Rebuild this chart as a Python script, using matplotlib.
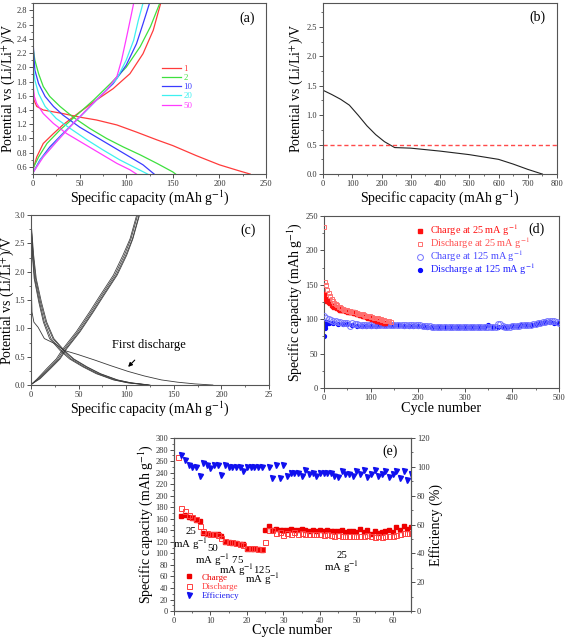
import matplotlib
matplotlib.use("Agg")
import matplotlib.pyplot as plt
from matplotlib.ticker import MultipleLocator, AutoMinorLocator

plt.rcParams['font.family'] = ['Liberation Serif', 'DejaVu Serif']
plt.rcParams['mathtext.fontset'] = 'stix'

# ---------------- Panel (a) data: rate curves ----------------
a_labels = ['1', '2', '10', '20', '50']
a_colors = ['#ff3b3b', '#3ee03e', '#3b3bff', '#3ef0f0', '#ff3bff']
a_dis_x = [
    [0, 1, 4, 11, 32, 50, 68, 90, 111, 133, 150, 175, 200, 220, 233],
    [0, 2, 6, 11, 18, 29, 43, 61, 79, 97, 115, 133, 150, 153],
    [0, 1, 2, 6, 13, 22, 32, 50, 68, 86, 104, 118, 130],
    [0, 2, 6, 13, 25, 40, 58, 75, 93, 111, 123],
    [0, 1.4, 4, 11, 22, 36, 54, 72, 90, 104, 111],
]
a_dis_y = [
    [1.72, 1.54, 1.45, 1.40, 1.35, 1.30, 1.26, 1.19, 1.09, 0.98, 0.90, 0.76, 0.63, 0.55, 0.50],
    [2.28, 2.10, 1.91, 1.73, 1.59, 1.45, 1.30, 1.14, 1.00, 0.88, 0.77, 0.65, 0.53, 0.50],
    [2.38, 2.15, 1.96, 1.77, 1.59, 1.45, 1.33, 1.16, 1.02, 0.88, 0.74, 0.63, 0.50],
    [2.05, 1.82, 1.63, 1.45, 1.28, 1.14, 0.98, 0.84, 0.70, 0.58, 0.50],
    [1.76, 1.59, 1.49, 1.35, 1.21, 1.07, 0.93, 0.79, 0.65, 0.56, 0.50],
]
a_chg_x = [
    [0, 4, 11, 22, 32, 50, 68, 86, 104, 118, 129, 137],
    [0, 6, 15, 29, 47, 65, 83, 100, 115, 126, 136],
    [0, 7.5, 18, 32, 50, 68, 86, 100, 111, 118, 125],
    [0, 9, 22, 36, 54, 72, 90, 100, 108, 113, 118],
    [0, 11, 25, 43, 61, 79, 90, 95, 100.5, 105, 108],
]
a_chg_y = [
    [0.56, 0.74, 0.93, 1.07, 1.19, 1.37, 1.54, 1.70, 1.91, 2.19, 2.52, 2.90],
    [0.58, 0.74, 0.93, 1.12, 1.33, 1.54, 1.77, 2.00, 2.29, 2.57, 2.90],
    [0.52, 0.70, 0.88, 1.07, 1.30, 1.54, 1.77, 2.03, 2.33, 2.61, 2.90],
    [0.52, 0.72, 0.91, 1.12, 1.35, 1.59, 1.84, 2.10, 2.38, 2.66, 2.90],
    [0.52, 0.74, 0.95, 1.21, 1.45, 1.68, 1.87, 2.10, 2.43, 2.71, 2.90],
]

# ---------------- Panel (b) data: first discharge ----------------
b_x = [0, 1, 30, 60, 90, 120, 150, 180, 210, 245, 300, 400, 500, 600, 650, 700, 750]
b_y = [1.55, 1.42, 1.35, 1.27, 1.17, 1.00, 0.82, 0.67, 0.55, 0.45, 0.44, 0.39, 0.33, 0.25, 0.17, 0.08, 0.0]
b_ref_v = 0.5

# ---------------- Panel (c) data: cycling curves ----------------
c_first_x = [0, 1, 3, 7.4, 14, 25, 35, 49, 67, 84, 102, 119, 137, 154, 172, 191]
c_first_y = [1.94, 1.29, 1.11, 1.02, 0.82, 0.73, 0.61, 0.54, 0.44, 0.34, 0.24, 0.16, 0.09, 0.05, 0.02, 0.0]
c_dis_x = [
    [0, 1.75, 3.9, 9, 14, 21, 32, 42, 56, 70, 88, 102, 123],
    [0, 2.3, 4.8, 10, 15.5, 23, 34, 44, 58, 72, 90, 104, 124],
    [0, 1.4, 3.3, 8.2, 13, 19.5, 30.5, 40.5, 54.5, 68.5, 86.5, 101, 122],
    [0, 2.8, 5.5, 11, 16.5, 24, 35, 45, 59, 73, 91, 105, 125],
]
c_dis_y = [
    [2.9, 2.29, 1.88, 1.46, 1.11, 0.82, 0.61, 0.46, 0.32, 0.20, 0.09, 0.04, 0.0],
    [2.85, 2.29, 1.88, 1.46, 1.11, 0.82, 0.61, 0.46, 0.32, 0.20, 0.09, 0.04, 0.0],
    [2.8, 2.29, 1.88, 1.46, 1.11, 0.82, 0.61, 0.46, 0.32, 0.20, 0.09, 0.04, 0.0],
    [2.9, 2.29, 1.88, 1.46, 1.11, 0.82, 0.61, 0.46, 0.32, 0.20, 0.09, 0.04, 0.0],
]
c_chg_x = [
    [0, 1, 7.4, 18, 28, 35, 49, 63, 74, 88, 98, 105, 112],
    [0, 1, 8.5, 19.5, 29.5, 36.5, 50.5, 64.5, 75.5, 89.5, 99.5, 106.5, 113.5],
    [0, 1, 6.5, 16.5, 26.5, 33.5, 47.5, 61.5, 72.5, 86.5, 96.5, 104, 111],
    [0, 1, 9.5, 20.5, 30.5, 37.5, 51.5, 65.5, 76.5, 90.5, 100.5, 107, 114],
]
c_chg_y = [
    [0.02, 0.02, 0.11, 0.29, 0.46, 0.64, 0.94, 1.29, 1.58, 1.94, 2.29, 2.58, 3.0],
    [0.02, 0.02, 0.11, 0.29, 0.46, 0.64, 0.94, 1.29, 1.58, 1.94, 2.29, 2.58, 3.0],
    [0.02, 0.02, 0.11, 0.29, 0.46, 0.64, 0.94, 1.29, 1.58, 1.94, 2.29, 2.58, 3.0],
    [0.02, 0.02, 0.11, 0.29, 0.46, 0.64, 0.94, 1.29, 1.58, 1.94, 2.29, 2.58, 3.0],
]
c_xticklabels = ['0', '50', '100', '150', '200', '25']

# ---------------- Panel (d) data: long cycling ----------------
d_chg25_cyc = list(range(1, 131, 3))
d_chg25 = [136, 130, 127, 125, 123, 121, 119, 118, 117, 116, 115, 114, 114, 113, 113,
           112, 112, 111, 111, 110, 110, 109, 109, 108, 107, 106, 106, 105, 104, 104,
           103, 102, 102, 101, 100, 100, 99, 98, 98, 97, 96, 96, 95, 94]
d_dis25_cyc = [1, 2] + list(range(4, 143, 3))
d_dis25 = [234, 154, 149, 143, 138, 134, 130, 127, 124, 122, 120, 118, 117, 116, 115,
           114, 113, 113, 112, 112, 111, 111, 110, 110, 109, 108, 108, 107, 107, 106,
           105, 105, 104, 104, 103, 103, 102, 102, 101, 101, 100, 100, 99, 99, 98,
           98, 97, 97, 96]
d_chg125_cyc = [1] + list(range(5, 501, 5))
d_chg125 = [104, 102, 100, 99, 98, 97, 96, 96, 95, 95, 95, 90, 94, 93, 93,
            92, 92, 92, 91, 91, 91, 91, 92, 92, 92, 92, 92, 92, 92, 92,
            92, 91, 91, 91, 91, 91, 91, 91, 91, 91, 91, 91, 90, 90, 90,
            90, 89, 89, 89, 89, 89, 89, 88, 88, 88, 88, 89, 89, 89, 89,
            89, 89, 89, 89, 89, 88, 88, 88, 88, 88, 88, 88, 89, 89, 93,
            93, 90, 89, 89, 89, 90, 90, 90, 90, 91, 91, 91, 92, 92, 93,
            93, 94, 95, 96, 96, 97, 97, 97, 97, 96, 95]
d_dis125_cyc = [1, 2, 3, 4, 5, 6, 8, 10] + list(range(20, 501, 10))
d_dis125 = [76, 87, 92, 95, 96, 96, 95, 95,
            94, 93, 93, 93, 91, 90, 90, 90, 90, 90, 91, 91, 91, 91, 91, 90,
            90, 90, 90, 90, 89, 89, 88, 88, 88, 88, 88, 88, 88, 88, 88, 89,
            89, 92, 89, 88, 89, 89, 90, 90, 91, 91, 92, 93, 95, 96, 96, 95, 94]

# ---------------- Panel (e) data: rate capability ----------------
e_chg_cyc = list(range(2, 66))
e_chg = [165, 166, 164, 161, 158, 156, 135, 134, 134, 134, 133, 131, 120, 119, 118,
         118, 117, 116, 108, 108, 108, 107, 106, 141, 147, 140, 142, 140, 141, 141,
         142, 140, 141, 143, 140, 139, 141, 139, 140, 139, 140, 138, 139, 138, 140,
         137, 139, 138, 137, 142, 137, 140, 134, 139, 136, 137, 138, 140, 137, 146,
         140, 147, 142, 145]
e_dis_cyc = list(range(1, 66))
e_dis = [267, 178, 174, 167, 163, 160, 147, 138, 136, 134, 133, 132, 126, 121, 120,
         119, 118, 117, 115, 110, 109, 109, 108, 108, 120, 140, 140, 135, 137, 132,
         135, 133, 137, 134, 135, 133, 133, 134, 133, 133, 132, 133, 132, 131, 132,
         131, 131, 131, 131, 131, 130, 130, 132, 130, 129, 131, 129, 130, 130, 131,
         132, 133, 135, 136, 135]
e_eff_cyc = list(range(2, 25)) + list(range(26, 66))
e_eff = [108, 104.5, 101.5, 100, 100, 94, 102.5, 101, 99, 101, 101, 94.5, 101, 100, 100,
         100, 100, 97, 100, 100, 100, 100, 100,
         100, 92, 101.5, 92, 101, 93.5, 96, 96, 96, 94, 98, 95, 96, 94,
         96, 96, 96, 96, 94, 93, 97, 95, 95, 94, 97, 95, 98, 93, 95, 98,
         94, 95, 97, 93, 95, 97, 92, 97, 91, 95]
e_rate_labels = ['25\nmA g$^{-1}$', '50', 'mA g$^{-1}$ 75', 'mA g$^{-1}$125', 'mA g$^{-1}$', '25\nmA g$^{-1}$']

# ---------------- figure ----------------
fig = plt.figure(figsize=(5.67, 6.4), dpi=100)
spine_c = '#555555'
lab_fs = 10
tick_fs = 6


def style(ax):
    for s in ax.spines.values():
        s.set_color(spine_c)
        s.set_linewidth(0.8)
    ax.tick_params(which='major', direction='out', length=3, width=0.6, labelsize=tick_fs,
                   colors='#333333', pad=1.2)
    ax.tick_params(which='minor', direction='out', length=1.6, width=0.5, colors='#333333')
    ax.xaxis.set_minor_locator(AutoMinorLocator(2))
    ax.yaxis.set_minor_locator(AutoMinorLocator(2))


# (a)
axa = fig.add_axes([0.0582, 0.728, 0.411, 0.267])
for i in range(5):
    axa.plot(a_dis_x[i], a_dis_y[i], color=a_colors[i], lw=0.9, label=a_labels[i])
    axa.plot(a_chg_x[i], a_chg_y[i], color=a_colors[i], lw=0.9)
axa.set_xlim(0, 250)
axa.set_ylim(0.5, 2.9)
axa.xaxis.set_major_locator(MultipleLocator(50))
axa.set_yticks([0.6, 0.8, 1.0, 1.2, 1.4, 1.6, 1.8, 2.0, 2.2, 2.4, 2.6, 2.8])
style(axa)
axa.yaxis.set_minor_locator(MultipleLocator(0.1))
axa.set_xlabel('Specific capacity (mAh g$^{-1}$)', fontsize=lab_fs, labelpad=0)
axa.set_ylabel('Potential vs (Li/Li$^{+}$)/V', fontsize=lab_fs)
axa.yaxis.set_label_coords(-0.068, 0.5)
leg = axa.legend(loc='upper left', bbox_to_anchor=(0.53, 0.67), frameon=False, fontsize=6.3,
                 handlelength=2.2, labelspacing=0.12, handletextpad=0.3, borderpad=0.1)
for t, c in zip(leg.get_texts(), a_colors):
    t.set_color(c)
axa.text(0.92, 0.91, '(a)', transform=axa.transAxes, ha='center', va='center', fontsize=10)

# (b)
axb = fig.add_axes([0.5697, 0.728, 0.4127, 0.267])
axb.plot(b_x, b_y, color='#222222', lw=0.8)
axb.axhline(b_ref_v, color='#ff4a4a', lw=1.0, ls=(0, (3, 2)))
axb.set_xlim(0, 800)
axb.set_ylim(0, 2.9)
axb.xaxis.set_major_locator(MultipleLocator(100))
axb.set_yticks([0, 0.5, 1.0, 1.5, 2.0, 2.5])
style(axb)
axb.yaxis.set_minor_locator(MultipleLocator(0.25))
axb.set_xlabel('Specific capacity (mAh g$^{-1}$)', fontsize=lab_fs, labelpad=0)
axb.set_ylabel('Potential vs (Li/Li$^{+}$)/V', fontsize=lab_fs)
axb.yaxis.set_label_coords(-0.077, 0.5)
axb.text(0.915, 0.92, '(b)', transform=axb.transAxes, ha='center', va='center', fontsize=10)

# (c)
axc = fig.add_axes([0.0547, 0.3984, 0.4198, 0.2656])
axc.plot(c_first_x, c_first_y, color='#3a3a3a', lw=0.6)
for i in range(4):
    axc.plot(c_dis_x[i], c_dis_y[i], color='#3a3a3a', lw=0.55)
    axc.plot(c_chg_x[i], c_chg_y[i], color='#3a3a3a', lw=0.55)
axc.set_xlim(0, 250)
axc.set_ylim(0, 3.0)
axc.set_xticks([0, 50, 100, 150, 200, 250])
axc.set_xticklabels(c_xticklabels)
axc.set_yticks([0, 0.5, 1.0, 1.5, 2.0, 2.5, 3.0])
style(axc)
axc.yaxis.set_minor_locator(MultipleLocator(0.25))
axc.set_xlabel('Specific capacity (mAh g$^{-1}$)', fontsize=lab_fs, labelpad=0)
axc.set_ylabel('Potential vs (Li/Li$^{+}$)/V', fontsize=lab_fs)
axc.yaxis.set_label_coords(-0.064, 0.5)
axc.annotate('First discharge', xy=(102, 0.32), xytext=(124, 0.7), fontsize=9,
             ha='center', va='center',
             arrowprops=dict(arrowstyle='-|>', color='black', lw=0.8, mutation_scale=6,
                             shrinkA=6, shrinkB=0))
axc.text(0.91, 0.91, '(c)', transform=axc.transAxes, ha='center', va='center', fontsize=10)

# (d)
axd = fig.add_axes([0.5714, 0.3937, 0.4145, 0.269])
axd.plot(d_dis125_cyc, d_dis125, ls='none', marker='o', ms=2.8, color='#0a0aff',
         label='Discharge at 125 mA g$^{-1}$', zorder=2)
axd.plot(d_chg125_cyc, d_chg125, ls='none', marker='o', ms=4.2, mfc='none', mec='#7474ff',
         mew=0.7, label='Charge at 125 mA g$^{-1}$', zorder=3)
axd.plot(d_chg25_cyc, d_chg25, ls='none', marker='s', ms=3.4, color='#ff1010',
         label='Charge at 25 mA g$^{-1}$', zorder=4)
axd.plot(d_dis25_cyc, d_dis25, ls='none', marker='s', ms=3.4, mfc='none', mec='#ff7070',
         mew=0.7, label='Discharge at 25 mA g$^{-1}$', zorder=5)
axd.set_xlim(0, 500)
axd.set_ylim(0, 250)
axd.xaxis.set_major_locator(MultipleLocator(100))
axd.yaxis.set_major_locator(MultipleLocator(50))
style(axd)
axd.set_xlabel('Cycle number', fontsize=10.3, labelpad=0)
axd.set_ylabel('Specific capacity (mAh g$^{-1}$)', fontsize=lab_fs)
axd.yaxis.set_label_coords(-0.085, 0.5)
h, l = axd.get_legend_handles_labels()
order = [2, 3, 1, 0]
legd = axd.legend([h[i] for i in order], [l[i] for i in order], loc='upper left',
                  bbox_to_anchor=(0.375, 0.99), frameon=False, fontsize=7.4,
                  handlelength=0.6, labelspacing=-0.25, handletextpad=0.6, borderpad=0.0)
for t, c in zip(legd.get_texts(), ['#ff1010', '#ff5050', '#4a4aff', '#2020ff']):
    t.set_color(c)
axd.text(0.905, 0.924, '(d)', transform=axd.transAxes, ha='center', va='center', fontsize=10)

# (e)
axe = fig.add_axes([0.3069, 0.0452, 0.418, 0.2703])
axe2 = axe.twinx()
axe.plot(e_chg_cyc, e_chg, ls='none', marker='s', ms=3.3, color='#ee0000', label='Charge')
axe.plot(e_dis_cyc, e_dis, ls='none', marker='s', ms=3.6, mfc='none', mec='#ff4040',
         mew=0.7, label='Discharge')
axe2.plot(e_eff_cyc, e_eff, ls='none', marker='v', ms=3.6, color='#1010ee', label='Efficiency')
axe.set_xlim(0, 65)
axe.set_ylim(0, 300)
axe2.set_ylim(0, 120)
axe.xaxis.set_major_locator(MultipleLocator(10))
axe.yaxis.set_major_locator(MultipleLocator(20))
axe2.yaxis.set_major_locator(MultipleLocator(20))
style(axe)
style(axe2)
axe.yaxis.set_minor_locator(MultipleLocator(10))
axe2.yaxis.set_minor_locator(MultipleLocator(10))
axe.set_xlabel('Cycle number', fontsize=10.3, labelpad=-1)
axe.set_ylabel('Specific capacity (mAh g$^{-1}$)', fontsize=lab_fs)
axe2.set_ylabel('Efficiency (%)', fontsize=lab_fs)
axe.yaxis.set_label_coords(-0.08, 0.5)
axe2.yaxis.set_label_coords(1.078, 0.5)
e_lab_pos = [(4.6, 124), (10.5, 109), (12.5, 89), (19.5, 71), (24.3, 56), (46, 83)]
for txt, (x, y) in zip(e_rate_labels, e_lab_pos):
    axe.text(x, y, txt, fontsize=7.8, ha='center', va='center', linespacing=0.95)
h1, l1 = axe.get_legend_handles_labels()
h2, l2 = axe2.get_legend_handles_labels()
lege = axe.legend(h1 + h2, l1 + l2, loc='upper left', bbox_to_anchor=(0.025, 0.245),
                  frameon=False, fontsize=6.5, handlelength=1.0, labelspacing=0.12,
                  handletextpad=0.9, borderpad=0.0)
for t, c in zip(lege.get_texts(), ['#ee0000', '#ff4040', '#2020ee']):
    t.set_color(c)
axe.text(0.91, 0.925, '(e)', transform=axe.transAxes, ha='center', va='center', fontsize=10)

fig.savefig('out.png', dpi=100)
